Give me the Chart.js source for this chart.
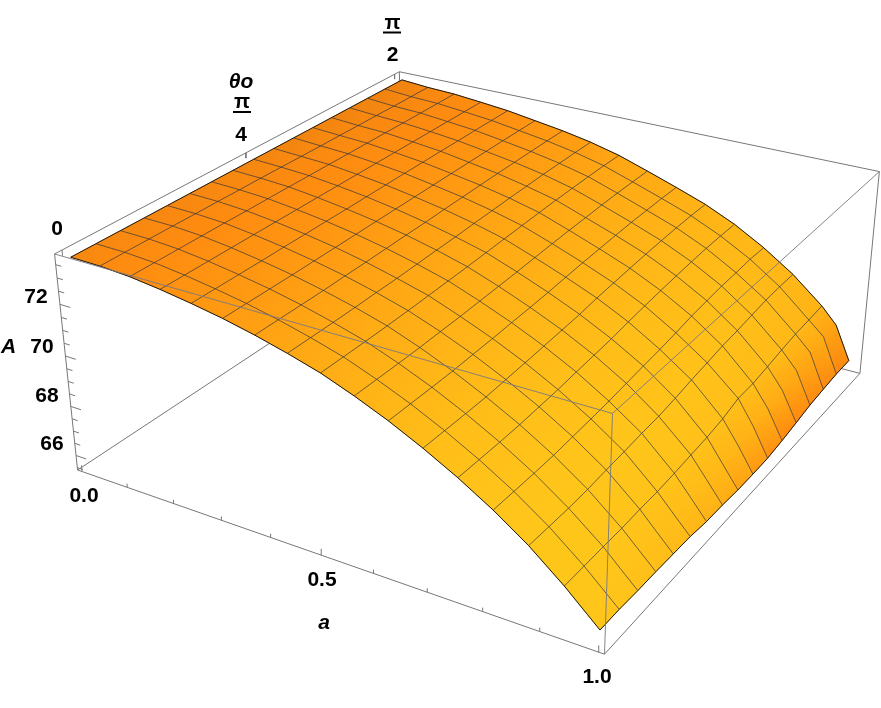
<!DOCTYPE html>
<html><head><meta charset="utf-8">
<style>html,body{margin:0;padding:0;background:#fff}canvas{display:block}</style>
<script src="https://cdn.jsdelivr.net/npm/chart.js@4"></script></head>
<body><canvas id="c" width="881" height="708"></canvas>
<script>
const A_VALUES=[0,.0625,.125,.1875,.25,.3125,.375,.4375,.5,.5625,.625,.6875,.75,.8125,.875,.9375,.96875,1];
const MESH_OFF_ROW=16;
const AREA=[
[73.72,73.72,73.72,73.72,73.72,73.72,73.72,73.72,73.72,73.72,73.72,73.72,73.72,73.72,73.72,73.72,73.72],
[73.70,73.70,73.70,73.70,73.69,73.69,73.68,73.68,73.67,73.66,73.65,73.65,73.64,73.64,73.63,73.63,73.63],
[73.62,73.62,73.62,73.62,73.62,73.61,73.61,73.61,73.60,73.60,73.59,73.59,73.59,73.58,73.58,73.58,73.58],
[73.47,73.47,73.47,73.47,73.47,73.47,73.47,73.47,73.47,73.47,73.47,73.47,73.47,73.47,73.47,73.47,73.47],
[73.28,73.28,73.28,73.28,73.29,73.29,73.30,73.30,73.31,73.32,73.33,73.33,73.34,73.34,73.35,73.35,73.35],
[73.06,73.06,73.06,73.06,73.07,73.08,73.09,73.10,73.11,73.12,73.13,73.14,73.15,73.16,73.17,73.17,73.17],
[72.79,72.79,72.79,72.79,72.81,72.82,72.84,72.86,72.87,72.90,72.92,72.94,72.96,72.97,72.98,72.99,72.99],
[72.47,72.47,72.47,72.48,72.50,72.51,72.54,72.57,72.59,72.63,72.66,72.69,72.71,72.74,72.75,72.76,72.76],
[72.11,72.11,72.11,72.12,72.14,72.17,72.20,72.23,72.27,72.31,72.35,72.39,72.42,72.44,72.46,72.47,72.46],
[71.64,71.64,71.64,71.65,71.68,71.70,71.74,71.78,71.82,71.87,71.92,71.96,71.99,72.03,72.05,72.06,72.06],
[71.11,71.11,71.11,71.12,71.16,71.19,71.24,71.28,71.33,71.40,71.46,71.51,71.56,71.60,71.62,71.64,71.64],
[70.50,70.50,70.50,70.51,70.56,70.61,70.67,70.73,70.79,70.89,70.96,71.03,71.09,71.14,71.18,71.20,71.20],
[69.82,69.82,69.82,69.84,69.89,69.94,70.02,70.09,70.16,70.27,70.36,70.44,70.51,70.57,70.62,70.64,70.64],
[69.05,69.05,69.05,69.07,69.13,69.18,69.25,69.34,69.43,69.51,69.61,69.73,69.81,69.88,69.91,69.96,69.94],
[68.17,68.16,68.15,68.18,68.25,68.30,68.37,68.41,68.51,68.64,68.74,68.85,68.91,69.00,69.08,69.11,69.11],
[67.12,67.12,67.12,67.11,67.14,67.14,67.19,67.26,67.32,67.44,67.65,67.66,67.76,67.88,67.98,68.02,68.07],
[66.53,66.53,66.50,66.49,66.48,66.46,66.44,66.46,66.45,66.55,66.70,66.80,66.96,67.19,67.37,67.47,67.41],
[65.94,65.94,65.89,65.87,65.83,65.79,65.68,65.65,65.58,65.56,65.56,65.65,65.77,65.90,65.97,66.03,66.03]];
const SHADE=[
[20,20,19,19,18,18,17,16,15,14,13,12,11,10,9,8,8],
[27,27,26,26,25,25,24,24,23,23,22,22,21,20,20,19,18],
[31,31,31,30,30,30,29,29,28,28,27,27,26,26,25,25,24],
[36,36,35,35,35,34,34,33,33,32,32,31,31,30,30,29,29],
[41,41,40,40,40,39,39,38,38,37,37,36,36,35,35,34,34],
[47,47,46,46,46,45,45,44,44,43,42,42,41,41,40,39,39],
[53,53,52,52,52,51,51,50,50,49,48,48,47,46,46,45,44],
[60,60,59,59,58,58,57,57,56,55,55,54,53,52,52,51,50],
[67,67,66,66,65,65,64,64,63,62,61,60,59,59,58,57,56],
[74,74,73,73,72,72,71,70,69,68,67,67,66,65,64,63,62],
[81,81,80,80,79,78,78,77,76,75,74,73,72,71,70,69,68],
[88,88,87,86,86,85,84,83,82,81,80,79,78,77,76,75,74],
[93,93,92,92,91,91,90,89,88,87,86,85,84,83,82,80,78],
[97,97,96,96,95,95,94,93,92,91,90,89,88,87,85,83,81],
[100,100,100,99,99,98,98,97,96,95,94,92,90,88,86,82,78],
[100,100,99,98,97,96,95,94,93,92,90,88,86,84,82,78,74],
[100,99,97,95,92,90,88,84,80,76,72,68,64,60,66,60,48],
[100,97,94,90,86,82,76,70,62,50,40,32,28,30,28,25,22]];
const aTicks=[0,.1,.2,.3,.4,.5,.6,.7,.8,.9,1];
const thetaTicks=[0,.5,1];
const zTicks=[66,68,70,72];
const zMinor=[65.5,66.5,67,67.5,68.5,69,69.5,70.5,71,71.5,72.5,73,73.5];
const ZMIN=65.4,ZMAX=73.9,PAD_U=.018,PAD_V=.018,PAD_TICK=.01;
const CORNERS=[[0,0,0,77.7,470],[1,0,0,604.3,654.3],[1,1,0,860,373.3],[0,0,1,54.5,254],[1,0,1,612.7,413.3],[0,1,1,399.3,71.7],[1,1,1,879.3,171.7]];
function solve(M,b){const n=b.length;const a=M.map((r,i)=>[...r,b[i]]);
 for(let c=0;c<n;c++){let p=c;for(let r=c+1;r<n;r++)if(Math.abs(a[r][c])>Math.abs(a[p][c]))p=r;[a[c],a[p]]=[a[p],a[c]];
  for(let r=0;r<n;r++)if(r!==c){const f=a[r][c]/a[c][c];for(let k=c;k<=n;k++)a[r][k]-=f*a[c][k];}}
 return a.map((r,i)=>r[n]/r[i]);}
const rows=[],rhs=[];
for(const [u,v,w,x,y] of CORNERS){rows.push([u,v,w,1,0,0,0,0,-u*x,-v*x,-w*x]);rhs.push(x);rows.push([0,0,0,0,u,v,w,1,-u*y,-v*y,-w*y]);rhs.push(y);}
const N=Array.from({length:11},(_,i)=>Array.from({length:11},(_,j)=>rows.reduce((s,r)=>s+r[i]*r[j],0)));
const nb=Array.from({length:11},(_,i)=>rows.reduce((s,r,k)=>s+r[i]*rhs[k],0));
const P=solve(N,nb);
function boxPt(u,v,w){const d=P[8]*u+P[9]*v+P[10]*w+1;return {x:(P[0]*u+P[1]*v+P[2]*w+P[3])/d,y:(P[4]*u+P[5]*v+P[6]*w+P[7])/d};}
const U=a=>(a+PAD_U)/(1+2*PAD_U),V=t=>(t+PAD_V)/(1+2*PAD_V),W=z=>(z-ZMIN)/(ZMAX-ZMIN),UT=a=>(a+PAD_TICK)/(1+2*PAD_TICK);
const pt=(r,j)=>boxPt(U(A_VALUES[r]),V(j/16),W(AREA[r][j]));
const canvas=document.getElementById('c'),ctx=canvas.getContext('2d');
const RAMP=[[0,[232,128,16]],[30,[255,140,16]],[60,[255,168,20]],[100,[255,198,26]]];
function col(s){for(let k=1;k<RAMP.length;k++){if(s<=RAMP[k][0]){const [a,ca]=RAMP[k-1],[b,cb]=RAMP[k],f=(s-a)/(b-a);return `rgb(${ca.map((c,n)=>Math.round(c+(cb[n]-c)*f)).join(',')})`;}}return 'rgb(255,198,26)';}
const ds=[];
function seg(points,color,width,order){ds.push({data:points,showLine:true,borderColor:color,borderWidth:width,pointRadius:0,fill:false,order,clip:false});}
const G='#777';
const c=(u,v,w)=>boxPt(u,v,w);
[[[0,0,0],[0,1,0]],[[0,1,0],[1,1,0]],[[0,1,0],[0,1,1]]].forEach(([a,b])=>seg([c(...a),c(...b)],G,1,5000));
[[[0,0,0],[1,0,0]],[[1,0,0],[1,1,0]],[[0,0,0],[0,0,1]],[[0,0,1],[0,1,1]],[[0,1,1],[1,1,1]],[[1,1,1],[1,1,0]]].forEach(([a,b])=>seg([c(...a),c(...b)],G,1,4900));
const R=A_VALUES.length,J=[...Array(17).keys()],RR=[...Array(R).keys()];
const mid=(p,q)=>({x:(p.x+q.x)/2,y:(p.y+q.y)/2});
for(let i=0;i<R-1;i++)for(let j=0;j<16;j++){
 const p=[pt(i,j),pt(i+1,j),pt(i+1,j+1),pt(i,j+1),pt(i,j)];
 const s00=SHADE[i][j],s10=SHADE[i+1][j],s11=SHADE[i+1][j+1],s01=SHADE[i][j+1];
 const dA=Math.abs(s10+s11-s00-s01),dT=Math.abs(s01+s11-s00-s10);
 let g;
 if(dA>=dT){const m0=mid(p[0],p[3]),m1=mid(p[1],p[2]);g=ctx.createLinearGradient(m0.x,m0.y,m1.x,m1.y);g.addColorStop(0,col((s00+s01)/2));g.addColorStop(1,col((s10+s11)/2));}
 else{const m0=mid(p[0],p[1]),m1=mid(p[3],p[2]);g=ctx.createLinearGradient(m0.x,m0.y,m1.x,m1.y);g.addColorStop(0,col((s00+s10)/2));g.addColorStop(1,col((s01+s11)/2));}
 ds.push({data:p,showLine:true,fill:'shape',backgroundColor:g,borderColor:g,borderWidth:1,pointRadius:0,order:3000,clip:false});
}
const MESH='rgba(40,45,60,.66)';
for(let r=1;r<R-1;r++)if(r!==MESH_OFF_ROW)seg(J.map(j=>pt(r,j)),MESH,1,2000);
for(let j=1;j<16;j++)seg(RR.map(r=>pt(r,j)),MESH,1,2000);
seg(J.map(j=>pt(0,j)),'#1a1a1a',1,1900);seg(J.map(j=>pt(R-1,j)),'#1a1a1a',1,1900);seg(RR.map(r=>pt(r,0)),'#1a1a1a',1,1900);seg(RR.map(r=>pt(r,16)),'#1a1a1a',1,1900);
[[[0,0,1],[1,0,1]],[[1,0,1],[1,1,1]],[[1,0,1],[1,0,0]]].forEach(([a,b])=>seg([c(...a),c(...b)],'rgba(120,120,130,.9)',1,1000));
aTicks.forEach(a=>{const major=(a===0||a===.5||a===1);seg([c(UT(a),0,0),c(UT(a),0,major?.03:.018)],G,1,900);});
thetaTicks.forEach(t=>seg([c(0,V(t),1),c(0,V(t),.975)],G,1,900));
zTicks.forEach(z=>seg([c(0,0,W(z)),c(.022,0,W(z))],G,1,900));
zMinor.forEach(z=>seg([c(0,0,W(z)),c(.012,0,W(z))],G,1,900));
const LABELS=[['72',36,297],['70',42,347],['68',47,396],['66',52,444],['0',57,229.5],['0.0',84,496],['0.5',322,580],['1.0',597,677],['π',392.5,23],['2',392.5,55],['π',242,102],['4',241,135]];
const ITALIC=[['A',8.5,347],['a',324,623],['θo',241,82]];
const BARS=[[383,401,32.5],[233,251,112]];
new Chart(canvas,{type:'scatter',data:{datasets:ds},options:{animation:false,responsive:false,events:[],
 layout:{padding:0},plugins:{legend:{display:false},tooltip:{enabled:false},title:{display:false}},
 scales:{x:{type:'linear',min:0,max:881,display:false},y:{type:'linear',min:0,max:708,reverse:true,display:false}}},
 plugins:[{id:'labels',afterDraw(ch){const k=ch.ctx;k.save();k.fillStyle='#000';k.textAlign='center';k.textBaseline='middle';
  k.font='bold 21px "Liberation Sans"';LABELS.forEach(([t,x,y])=>k.fillText(t,x,y));
  k.font='italic bold 21px "Liberation Sans"';ITALIC.forEach(([t,x,y])=>k.fillText(t,x,y));
  BARS.forEach(([a,b,y])=>{k.fillRect(a,y-1,b-a,2);});k.restore();}}]});
</script></body></html>
